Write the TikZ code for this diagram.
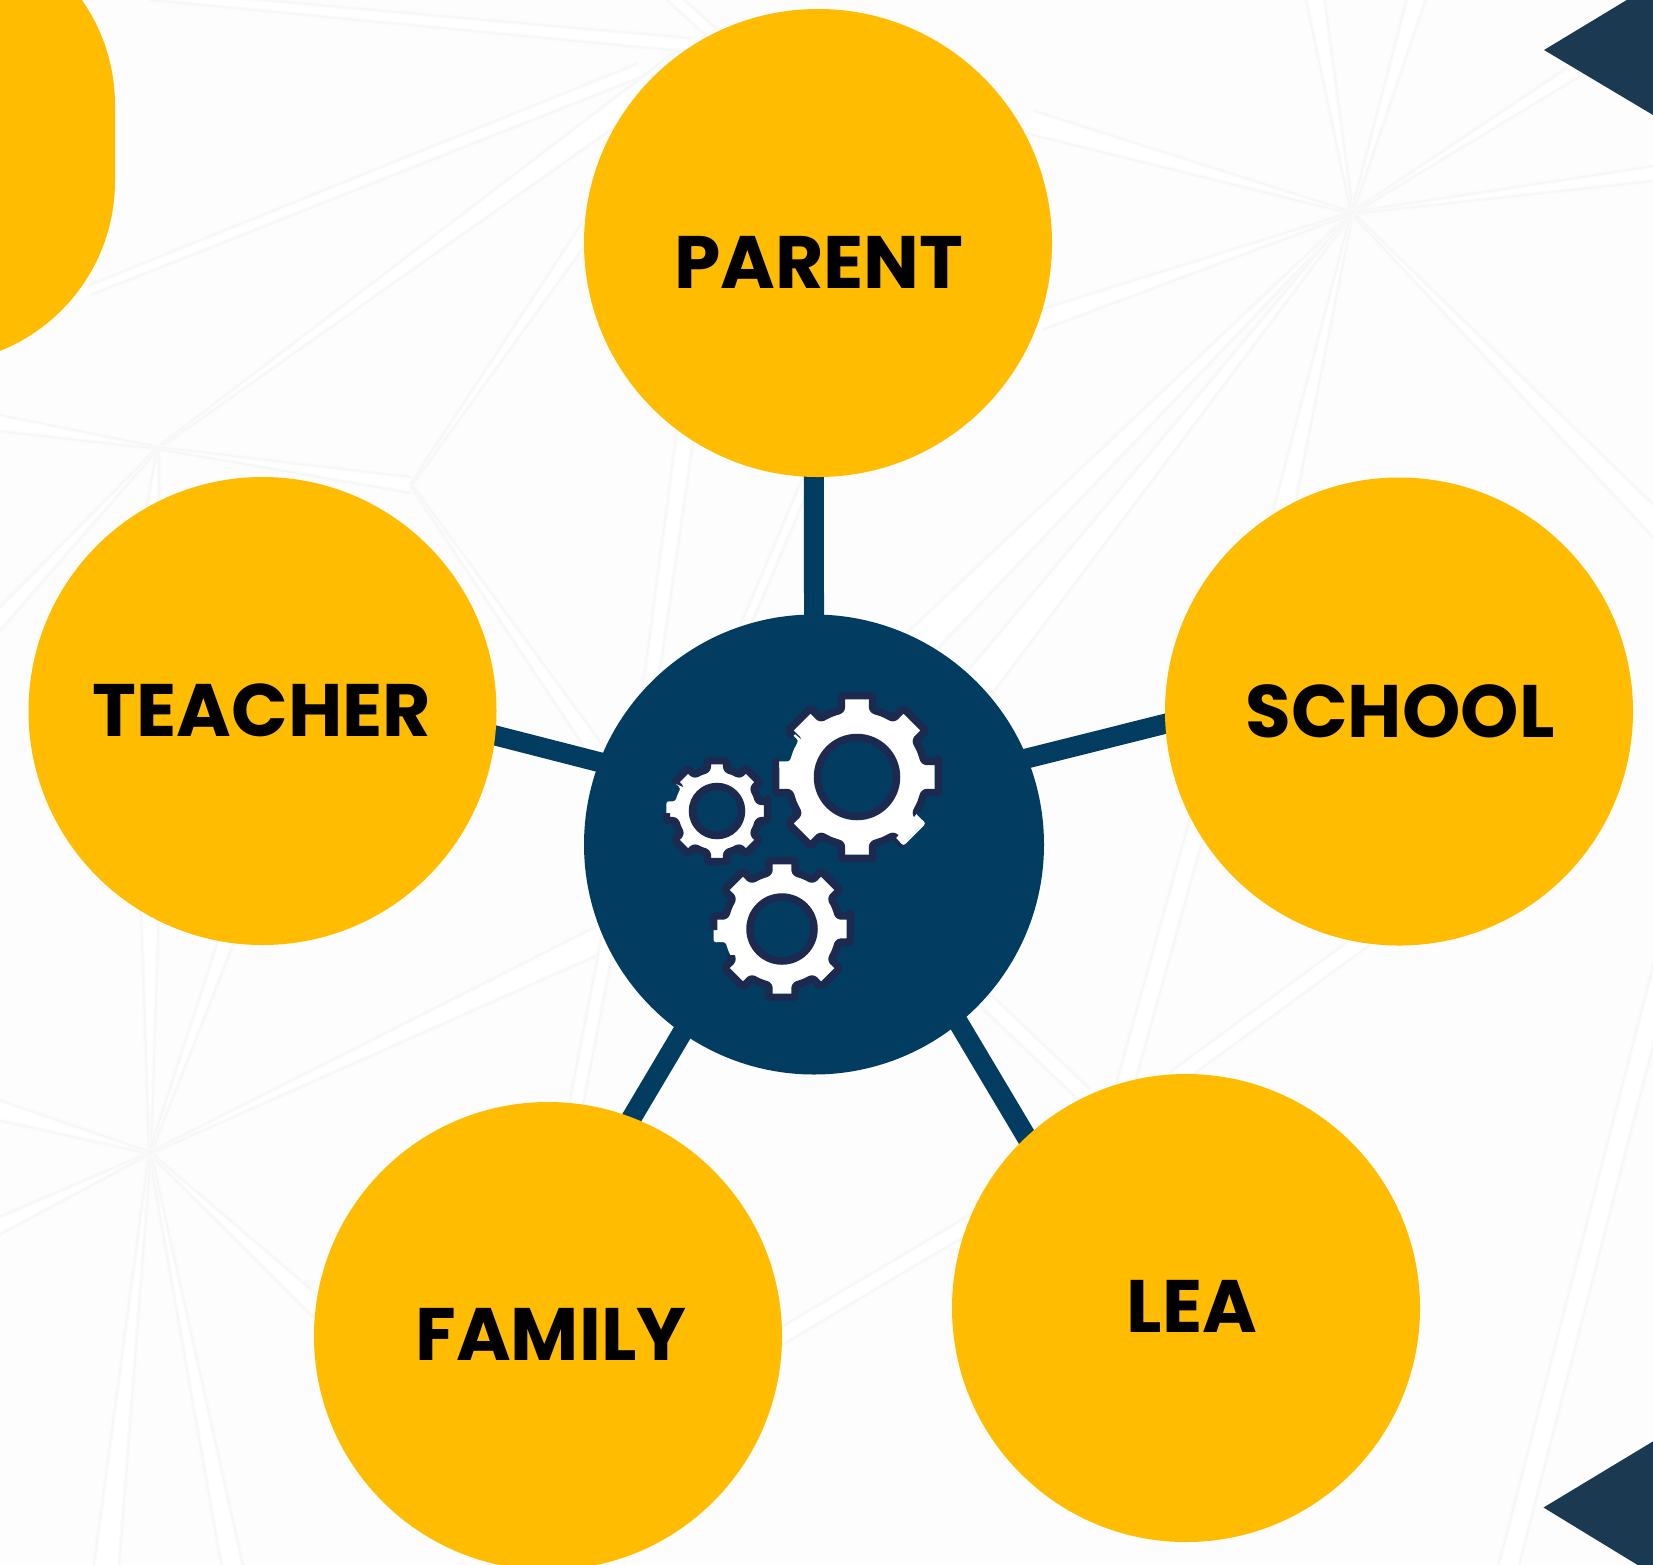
\documentclass[tikz,border=0pt]{standalone}
\usepackage{fontspec}
\setmainfont{Poppins}
\usetikzlibrary{calc}
\definecolor{ambercol}{HTML}{FFBC00}
\definecolor{hubcol}{HTML}{033C61}
\definecolor{tricol}{HTML}{1B3A52}
\definecolor{gearline}{HTML}{1B2A4E}
\definecolor{paper}{HTML}{FDFDFD}
\definecolor{veincol}{HTML}{F6F6F6}
\definecolor{veinsoft}{HTML}{FBFBFB}
\pgfdeclarelayer{backdrop}
\pgfdeclarelayer{links}
\pgfsetlayers{backdrop,links,main}
\tikzset{
  x=1pt,y=-1pt,
  disc/.style={circle,fill=ambercol,minimum size=468pt,inner sep=0pt,outer sep=0pt},
  hubdisc/.style={circle,fill=hubcol,minimum size=460pt,inner sep=0pt,outer sep=0pt},
  caption/.style={font=\fontsize{74.3}{74.3}\selectfont\bfseries,text=black,inner sep=0pt},
  link/.style={draw=hubcol,line width=20pt,shorten <=-14pt,shorten >=-14pt},
  gearfill/.style={fill=white,rounded corners=2.5pt,line join=round},
  gearstroke/.style={draw=gearline,line width=7.5pt,rounded corners=2.5pt,line join=round},
  gearhole/.style={draw=gearline,fill=hubcol,line width=7.5pt},
}
% a faint facet band: from (#1) half width #3 to (#2) half width #4
\newcommand{\band}[4]{%
  \coordinate (bp) at (#1); \coordinate (bq) at (#2);
  \coordinate (ba) at ($(bp)!#3pt!90:(bq)$); \coordinate (bb) at ($(bp)!#3pt!-90:(bq)$);
  \coordinate (bc) at ($(bq)!#4pt!90:(bp)$); \coordinate (bd) at ($(bq)!#4pt!-90:(bp)$);
  \fill[white] (ba) -- (bb) -- (bc) -- (bd) -- cycle;
  \draw[veinsoft,line width=4pt] (ba) -- (bd) (bb) -- (bc);
  \draw[veincol,line width=1.2pt] (ba) -- (bd) (bb) -- (bc);
}
\newcommand{\gearoutline}[1]{(-11:83*#1) \foreach \a in {0,45,...,315}{
      -- (\a-11:83*#1) -- (\a+11:83*#1) -- (\a+13:69*#1) -- (\a+22.5:69*#1) -- (\a+32:69*#1) } -- cycle}
% cx cy scale holeradius gap-polygon (where the outline is missing)
\newcommand{\gearat}[5]{%
  \fill[gearfill,shift={(#1,#2)}] \gearoutline{#3};
  \begin{scope}[even odd rule]
    \clip (0,0) rectangle (1653,1564) #5;
    \draw[gearstroke,shift={(#1,#2)}] \gearoutline{#3};
  \end{scope}
  \path[gearhole,shift={(#1,#2)}] (0,0) circle[radius=#4];
}
\begin{document}
\begin{tikzpicture}
\useasboundingbox (0,0) rectangle (1653,1564);
\begin{pgfonlayer}{backdrop}
\begin{scope}
\fill[paper] (0,0) rectangle (1653,1564);
% star right
\foreach \ex/\ey/\w in {1312/-20/10,1422/-20/10,1600/55/8,1680/170/8,1780/650/16,1240/700/16,880/683/18,950/720/18,1030/122/12,1040/320/10}{
  \band{1352,213}{\ex,\ey}{1}{\w}}
% star lower left
\foreach \ex/\ey/\w in {150/880/10,248/880/10,620/930/14,320/1310/10,235/1580/11,105/1580/13,-20/1235/9,-20/1105/11}{
  \band{150,1153}{\ex,\ey}{1}{\w}}
% star upper left
\foreach \ex/\ey/\w in {700/50/14,-20/640/9,-20/420/9,150/540/9}{
  \band{158,448}{\ex,\ey}{1}{\w}}
\band{158,448}{411,485}{1}{8}
\foreach \ex/\ey/\w in {590/225/8,610/770/9}{
  \band{411,485}{\ex,\ey}{1}{\w}}
% free bands
\band{90,290}{640,70}{5}{7}
\band{150,-5}{690,45}{5}{7}
\band{690,400}{640,760}{9}{7}
\band{811,471}{735,650}{5}{5}
\band{1203,805}{1125,1085}{9}{9}
\band{1370,935}{1175,1078}{8}{8}
\band{980,995}{1090,1100}{8}{8}
\band{1670,940}{1505,1580}{10}{10}
\band{775,1340}{985,1215}{8}{8}
\band{575,1110}{610,930}{7}{7}
\band{670,-5}{720,40}{6}{6}
\end{scope}
\end{pgfonlayer}
\begin{scope}
\clip (0,0) rectangle (1653,1564);
% left rounded shape
\fill[ambercol] (-300,-78) -- (-68,-78) arc[start angle=-90,end angle=0,radius=183] -- (115,181)
  arc[start angle=0,end angle=90,radius=183] -- (-300,364) -- cycle;
% triangles
\coordinate (triA) at (1544,50);
\fill[tricol] (triA) -- (1640,-8) -- (1700,-8) -- (1700,143) -- cycle;
\coordinate (triB) at (1543.5,1507.5);
\fill[tricol] (triB) -- (1700,1413) -- (1700,1600) -- (1695,1600) -- cycle;
% nodes
\node[hubdisc] (hub) at (814,844.5) {};
\node[disc] (parent) at (818,243) {};
\node[disc] (teacher) at (262.5,711) {};
\node[disc] (school) at (1399,711.5) {};
\node[disc] (family) at (548,1336) {};
\node[disc] (lea) at (1186,1308) {};
\node[caption] (parenttext) at (819,262.5) {PARENT};
\node[caption] (teachertext) at (262,710) {TEACHER};
\node[caption] (schooltext) at (1400,711) {SCHOOL};
\node[caption] (familytext) at (551,1334) {FAMILY};
\node[caption] (leatext) at (1192,1306.5) {LEA};
% gears
\gearat{857}{777}{1}{39.5}{(919,811) -- (935,825) -- (908,852) -- (896,838) -- cycle (795,734) -- (785,745) -- (779,755) -- (779,768) -- (800,768) -- (808,745) -- cycle}
\gearat{717}{811}{.62}{24.5}{(674,783) -- (690,790) -- (690,813) -- (658,813) -- (658,795) -- cycle}
\gearat{782}{929}{.84}{32}{(700,930) -- (745,930) -- (745,955) -- (725,955) -- (700,950) -- cycle}
\end{scope}
% connectors
\begin{pgfonlayer}{links}
\begin{scope}
\draw[link] (hub.90) -- (parent.269);
\draw[link] (hub.159) -- (teacher.-6.6);
\draw[link] (hub.22.5) -- (school.183.3);
\draw[link] (hub.235) -- (family.69.4);
\draw[link] (hub.-51.2) -- (lea.133.9);
\end{scope}
\end{pgfonlayer}
\end{tikzpicture}
\end{document}
